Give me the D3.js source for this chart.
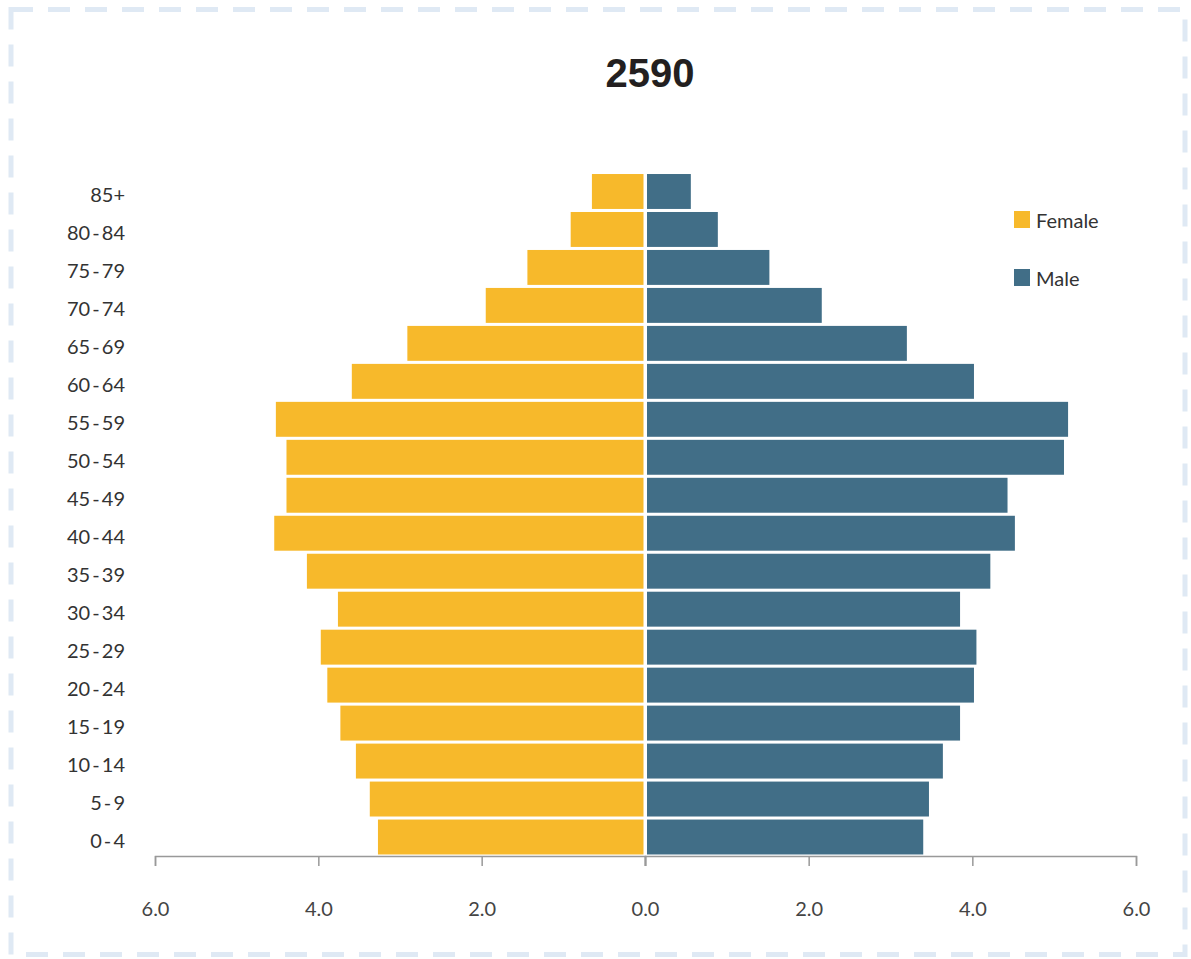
<!DOCTYPE html>
<html>
<head>
<meta charset="utf-8">
<script src="https://cdn.jsdelivr.net/npm/d3@7"></script>
<style>
  body { margin: 0; background: #fff; }
</style>
</head>
<body>
<div class="container"></div>
<script>
const ages = ["85+", "80-84", "75-79", "70-74", "65-69", "60-64", "55-59", "50-54", "45-49",
  "40-44", "35-39", "30-34", "25-29", "20-24", "15-19", "10-14", "5-9", "0-4"];
const female = [0.65, 0.91, 1.44, 1.95, 2.91, 3.59, 4.52, 4.39, 4.39,
  4.54, 4.14, 3.76, 3.97, 3.89, 3.73, 3.54, 3.37, 3.27];
const male = [0.56, 0.89, 1.52, 2.16, 3.20, 4.02, 5.17, 5.12, 4.43,
  4.52, 4.22, 3.85, 4.05, 4.02, 3.85, 3.64, 3.47, 3.40];
const ticks = [0, 2, 4, 6];
const series = ["Female", "Male"];

const width = 1191, height = 959;
const center = 645, axisY = 856;

const svg = d3.select(".container")
  .append("svg")
  .attr("width", width)
  .attr("height", height);

// dashed frame
svg.append("rect")
  .attr("x", 11).attr("y", 9.5)
  .attr("width", 1174).attr("height", 945)
  .attr("fill", "none")
  .attr("stroke", "#dfe9f4")
  .attr("stroke-width", 5)
  .attr("stroke-dasharray", "22 15");

svg.append("text")
  .attr("x", 650).attr("y", 87)
  .attr("text-anchor", "middle")
  .style("font-family", "Liberation Sans, Arial, sans-serif")
  .style("font-weight", "bold")
  .style("font-size", "40px")
  .style("fill", "#231f20")
  .text("2590");

const y = d3.scaleBand()
  .domain(ages)
  .range([172.5, axisY])
  .paddingInner(0.08)
  .paddingOuter(0.04);

const xl = d3.scaleLinear().domain([0, 6]).range([center, 155]);
const xr = d3.scaleLinear().domain([0, 6]).range([center, 1136]);

const color = d3.scaleOrdinal().domain(series).range(["#f7b92b", "#416e87"]);

// female bars
svg.append("g")
  .selectAll("rect")
  .data(ages)
  .join("rect")
  .attr("x", (d, i) => xl(female[i]))
  .attr("y", d => y(d))
  .attr("width", (d, i) => xl(0) - xl(female[i]) - 1.5)
  .attr("height", y.bandwidth())
  .attr("fill", color("Female"));

// male bars
svg.append("g")
  .selectAll("rect")
  .data(ages)
  .join("rect")
  .attr("x", xr(0) + 2)
  .attr("y", d => y(d))
  .attr("width", (d, i) => xr(male[i]) - xr(0) - 2)
  .attr("height", y.bandwidth())
  .attr("fill", color("Male"));

// y labels
svg.append("g")
  .selectAll("text")
  .data(ages)
  .join("text")
  .attr("x", 125)
  .attr("y", d => y(d) + y.bandwidth() / 2 + 4)
  .attr("dy", "0.35em")
  .attr("text-anchor", "end")
  .style("font-family", "Lato, sans-serif")
  .style("font-size", "20px")
  .style("fill", "#333")
  .style("word-spacing", "-3px")
  .text(d => d.replace("-", " - "));

// x axes
const styleAxis = g => {
  g.select(".domain").attr("stroke", "#999").attr("stroke-width", 1.5);
  g.selectAll(".tick line").attr("stroke", "#999").attr("stroke-width", 1.5);
  g.selectAll(".tick text")
    .attr("dy", "0")
    .attr("y", 60)
    .style("font-family", "Lato, sans-serif")
    .style("font-size", "20px")
    .style("fill", "#444");
};

svg.append("g")
  .attr("transform", `translate(0,${axisY})`)
  .call(d3.axisBottom(xl).tickValues(ticks).tickFormat(d3.format(".1f")).tickSize(10).tickSizeOuter(10))
  .call(styleAxis);

svg.append("g")
  .attr("transform", `translate(0,${axisY})`)
  .call(d3.axisBottom(xr).tickValues(ticks).tickFormat(d => d === 0 ? "" : d3.format(".1f")(d)).tickSize(10).tickSizeOuter(10))
  .call(styleAxis);

// legend
const legend = svg.append("g")
  .selectAll("g")
  .data(series)
  .join("g")
  .attr("transform", (d, i) => `translate(1014,${211 + i * 58})`);

legend.append("rect")
  .attr("width", 16).attr("height", 17)
  .attr("fill", d => color(d));

legend.append("text")
  .attr("x", 22).attr("y", 10)
  .attr("dy", "0.35em")
  .style("font-family", "Lato, sans-serif")
  .style("font-size", "20px")
  .style("fill", "#333")
  .text(d => d);
</script>
</body>
</html>
